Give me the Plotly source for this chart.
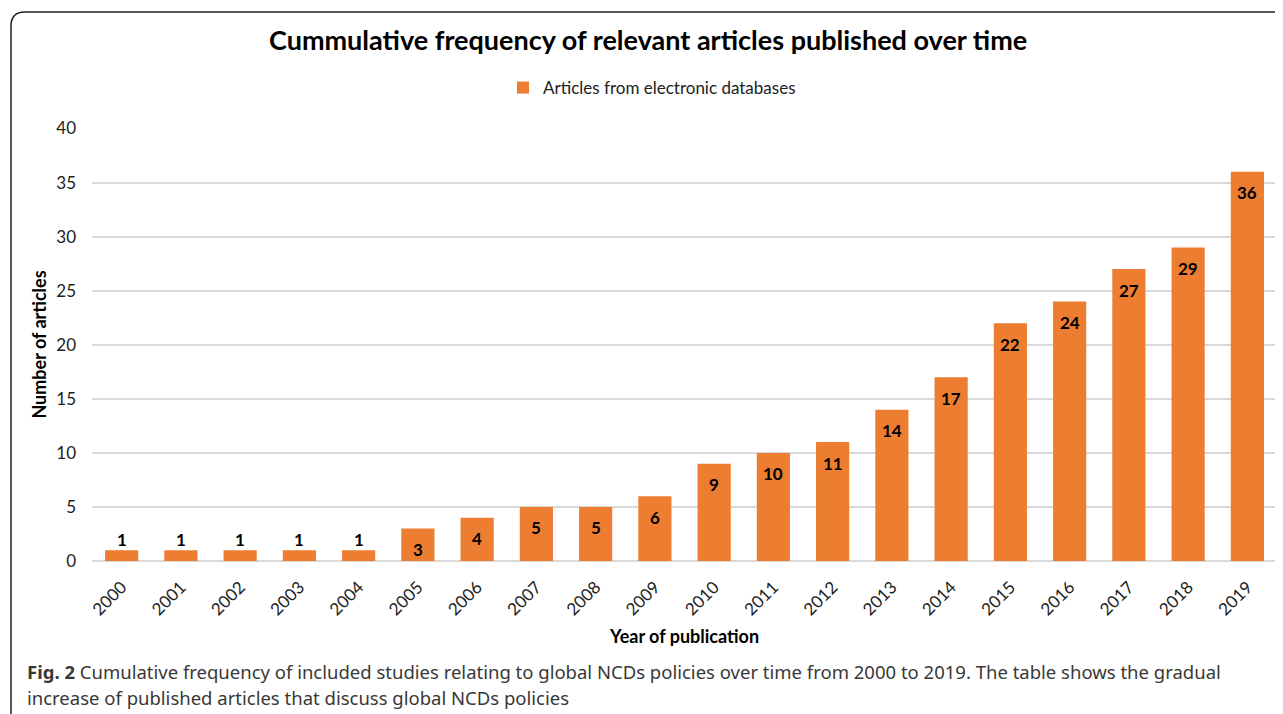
import plotly.graph_objects as go

years = [str(y) for y in range(2000, 2020)]
articles = [1, 1, 1, 1, 1, 3, 4, 5, 5, 6, 9, 10, 11, 14, 17, 22, 24, 27, 29, 36]
series_name = "Articles from electronic databases"
title_text = "Cummulative frequency of relevant articles published over time"
y_title = "Number of articles"
x_title = "Year of publication"
caption_l1 = "<b>Fig. 2</b> Cumulative frequency of included studies relating to global NCDs policies over time from 2000 to 2019. The table shows the gradual"
caption_l2 = "increase of published articles that discuss global NCDs policies"

OFF = 8  # page body margin
W, H = 1283 - OFF, 714 - OFF
# plot area in screenshot pixels: x 92..1277, y 128..561
ML = 92 - OFF
MT = 128 - OFF
MR = 1283 - 1277
MB = 714 - 561
PW = W - ML - MR
PH = H - MT - MB
BAR = "#ED7D31"
FONT = "Lato"

def px_x(p):
    return (p - OFF - ML) / PW

def px_y(p):
    return (H - MB - (p - OFF)) / PH

fig = go.Figure()
fig.add_trace(go.Bar(
    x=years, y=articles, name=series_name,
    marker=dict(color=BAR, line=dict(width=0)),
    showlegend=True,
))

annotations = []
for i, v in enumerate(articles):
    inside = v >= 3
    annotations.append(dict(
        x=i, y=v, xref="x", yref="y", text=f"<b>{v}</b>", showarrow=False,
        yanchor="middle", yshift=-21 if inside else 11,
        font=dict(family=FONT, size=17, color="#000000"),
    ))

annotations.append(dict(
    x=px_x(648), y=px_y(40), xref="paper", yref="paper", text=f"<b>{title_text}</b>",
    showarrow=False, xanchor="center", yanchor="middle",
    font=dict(family=FONT, size=27, color="#000000"),
))
annotations.append(dict(
    x=px_x(684), y=px_y(636), xref="paper", yref="paper", text=f"<b>{x_title}</b>",
    showarrow=False, xanchor="center", yanchor="middle",
    font=dict(family=FONT, size=18, color="#000000"),
))
annotations.append(dict(
    x=px_x(25), y=px_y(671), xref="paper", yref="paper", text=caption_l1,
    showarrow=False, xanchor="left", yanchor="middle",
    font=dict(family="Noto Sans", size=18.5, color="#383838"),
))
annotations.append(dict(
    x=px_x(25), y=px_y(697), xref="paper", yref="paper", text=caption_l2,
    showarrow=False, xanchor="left", yanchor="middle",
    font=dict(family="Noto Sans", size=18.5, color="#383838"),
))

# rounded border
x0, x1 = px_x(11), px_x(1300)
y0, y1 = px_y(730), px_y(12)
r = 14
rx, ry = r / PW, r / PH
path = (f"M {x0},{y0} L {x0},{y1 - ry} Q {x0},{y1} {x0 + rx},{y1} "
        f"L {x1},{y1}")

fig.update_layout(
    width=W, height=H,
    margin=dict(l=ML, r=MR, t=MT, b=MB, autoexpand=False),
    paper_bgcolor="white", plot_bgcolor="white",
    bargap=0.44,
    font=dict(family=FONT, color="#404040"),
    legend=dict(orientation="h", x=px_x(652), xanchor="center", y=px_y(88), yanchor="middle",
                font=dict(family=FONT, size=17, color="#222222")),
    xaxis=dict(type="category", tickangle=-45, tickfont=dict(family=FONT, size=17, color="#222222"),
               showgrid=False, showline=False, ticks="", ticklabelstandoff=12),
    yaxis=dict(range=[0, 40.05], dtick=5, tick0=0, showgrid=True, gridcolor="#D9D9D9", gridwidth=1.5,
               zeroline=True, zerolinecolor="#D9D9D9", zerolinewidth=2,
               tickfont=dict(family=FONT, size=17, color="#222222"), ticks="", ticklabelstandoff=15,
               title=dict(text=f"<b>{y_title}</b>", font=dict(family=FONT, size=18, color="#000000"), standoff=4)),
    annotations=annotations,
    shapes=[dict(type="path", path=path, xref="paper", yref="paper",
                 line=dict(color="#222222", width=1.5), layer="above")],
)

fig.write_html("out.html")
